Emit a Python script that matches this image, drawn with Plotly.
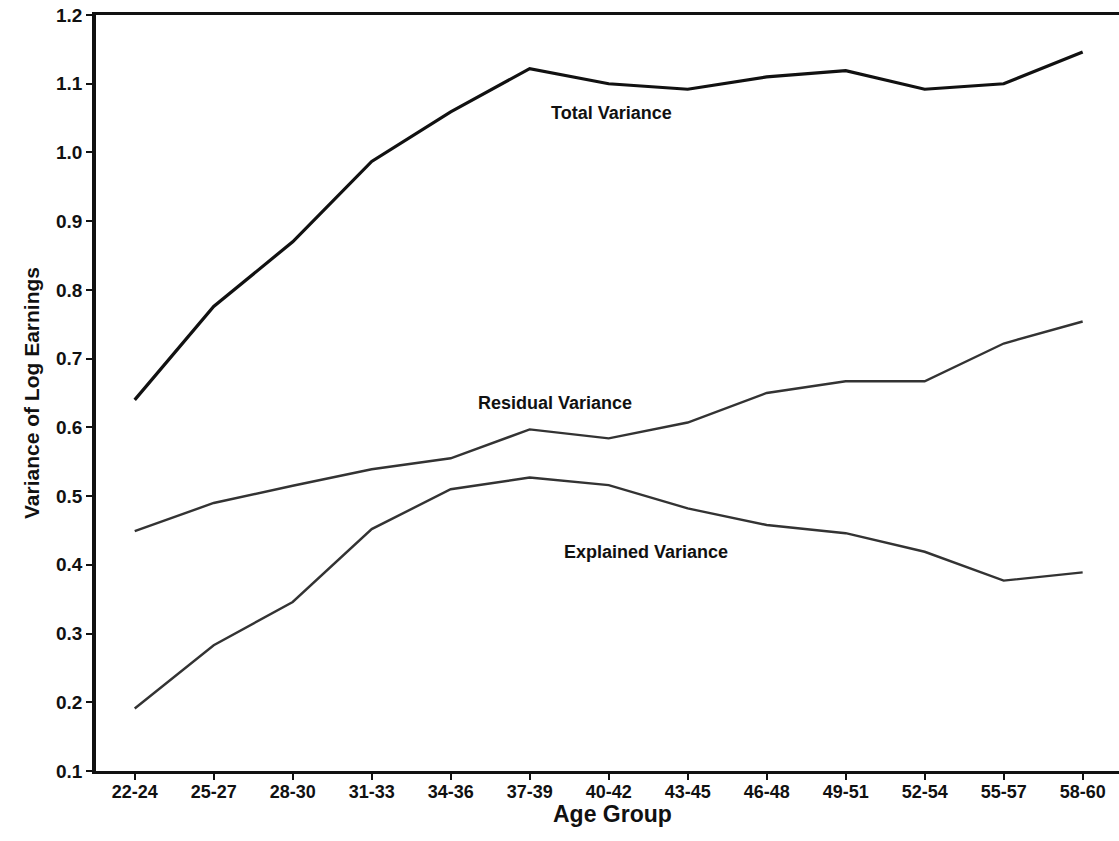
import plotly.graph_objects as go

age_groups = ["22-24", "25-27", "28-30", "31-33", "34-36", "37-39", "40-42",
              "43-45", "46-48", "49-51", "52-54", "55-57", "58-60"]
total_variance = [0.640, 0.776, 0.870, 0.987, 1.059, 1.122, 1.100,
                  1.092, 1.110, 1.119, 1.092, 1.100, 1.146]
residual_variance = [0.449, 0.490, 0.515, 0.539, 0.555, 0.597, 0.584,
                     0.607, 0.650, 0.667, 0.667, 0.722, 0.754]
explained_variance = [0.191, 0.283, 0.346, 0.452, 0.510, 0.527, 0.516,
                      0.482, 0.458, 0.446, 0.419, 0.377, 0.389]
y_ticks = [0.1, 0.2, 0.3, 0.4, 0.5, 0.6, 0.7, 0.8, 0.9, 1.0, 1.1, 1.2]
y_tick_text = ["0.1", "0.2", "0.3", "0.4", "0.5", "0.6", "0.7", "0.8", "0.9", "1.0", "1.1", "1.2"]

xi = list(range(len(age_groups)))

fig = go.Figure()
fig.add_trace(go.Scatter(x=xi, y=total_variance, mode="lines",
                         line=dict(color="#111111", width=3.2), name="Total Variance"))
fig.add_trace(go.Scatter(x=xi, y=residual_variance, mode="lines",
                         line=dict(color="#333333", width=2.4), name="Residual Variance"))
fig.add_trace(go.Scatter(x=xi, y=explained_variance, mode="lines",
                         line=dict(color="#333333", width=2.4), name="Explained Variance"))

lab_font = dict(family="Liberation Sans, Arial, sans-serif", size=18, color="#111111")
fig.add_annotation(x=6.03, y=1.057, text="<b>Total Variance</b>", showarrow=False, font=lab_font)
fig.add_annotation(x=5.32, y=0.635, text="<b>Residual Variance</b>", showarrow=False, font=lab_font)
fig.add_annotation(x=6.47, y=0.419, text="<b>Explained Variance</b>", showarrow=False, font=lab_font)

fig.add_annotation(x=(612 - 96) / 1023, y=-0.057, xref="paper", yref="paper", text="<b>Age Group</b>",
                   showarrow=False, xanchor="center", yanchor="middle",
                   font=dict(family="Liberation Sans, Arial, sans-serif", size=23, color="#111111"))

fig.update_layout(
    width=1119, height=841,
    margin=dict(l=96, r=0, t=15, b=70),
    plot_bgcolor="white", paper_bgcolor="white",
    showlegend=False,
    font=dict(family="Liberation Sans, Arial, sans-serif", color="#111111"),
)
fig.update_xaxes(
    range=[-0.49, 12.46],
    tickmode="array", tickvals=xi, ticktext=["<b>%s</b>" % a for a in age_groups],
    tickfont=dict(size=18, color="#111111"),
    showgrid=False, zeroline=False,
    showline=True, linecolor="#111111", linewidth=3, mirror=True,
    ticks="outside", ticklen=6, tickwidth=2, tickcolor="#111111",
    ticklabelstandoff=-4,
)
fig.update_yaxes(
    range=[0.1, 1.2],
    tickmode="array", tickvals=y_ticks, ticktext=["<b>%s</b>" % t for t in y_tick_text],
    tickfont=dict(size=19, color="#111111"),
    showgrid=False, zeroline=False,
    showline=True, linecolor="#111111", linewidth=3.5,
    ticks="outside", ticklen=6, tickwidth=2, tickcolor="#111111",
    title=dict(text="<b>Variance of Log Earnings</b>", font=dict(size=21, color="#111111"), standoff=12),
)

fig.write_html("out.html")
